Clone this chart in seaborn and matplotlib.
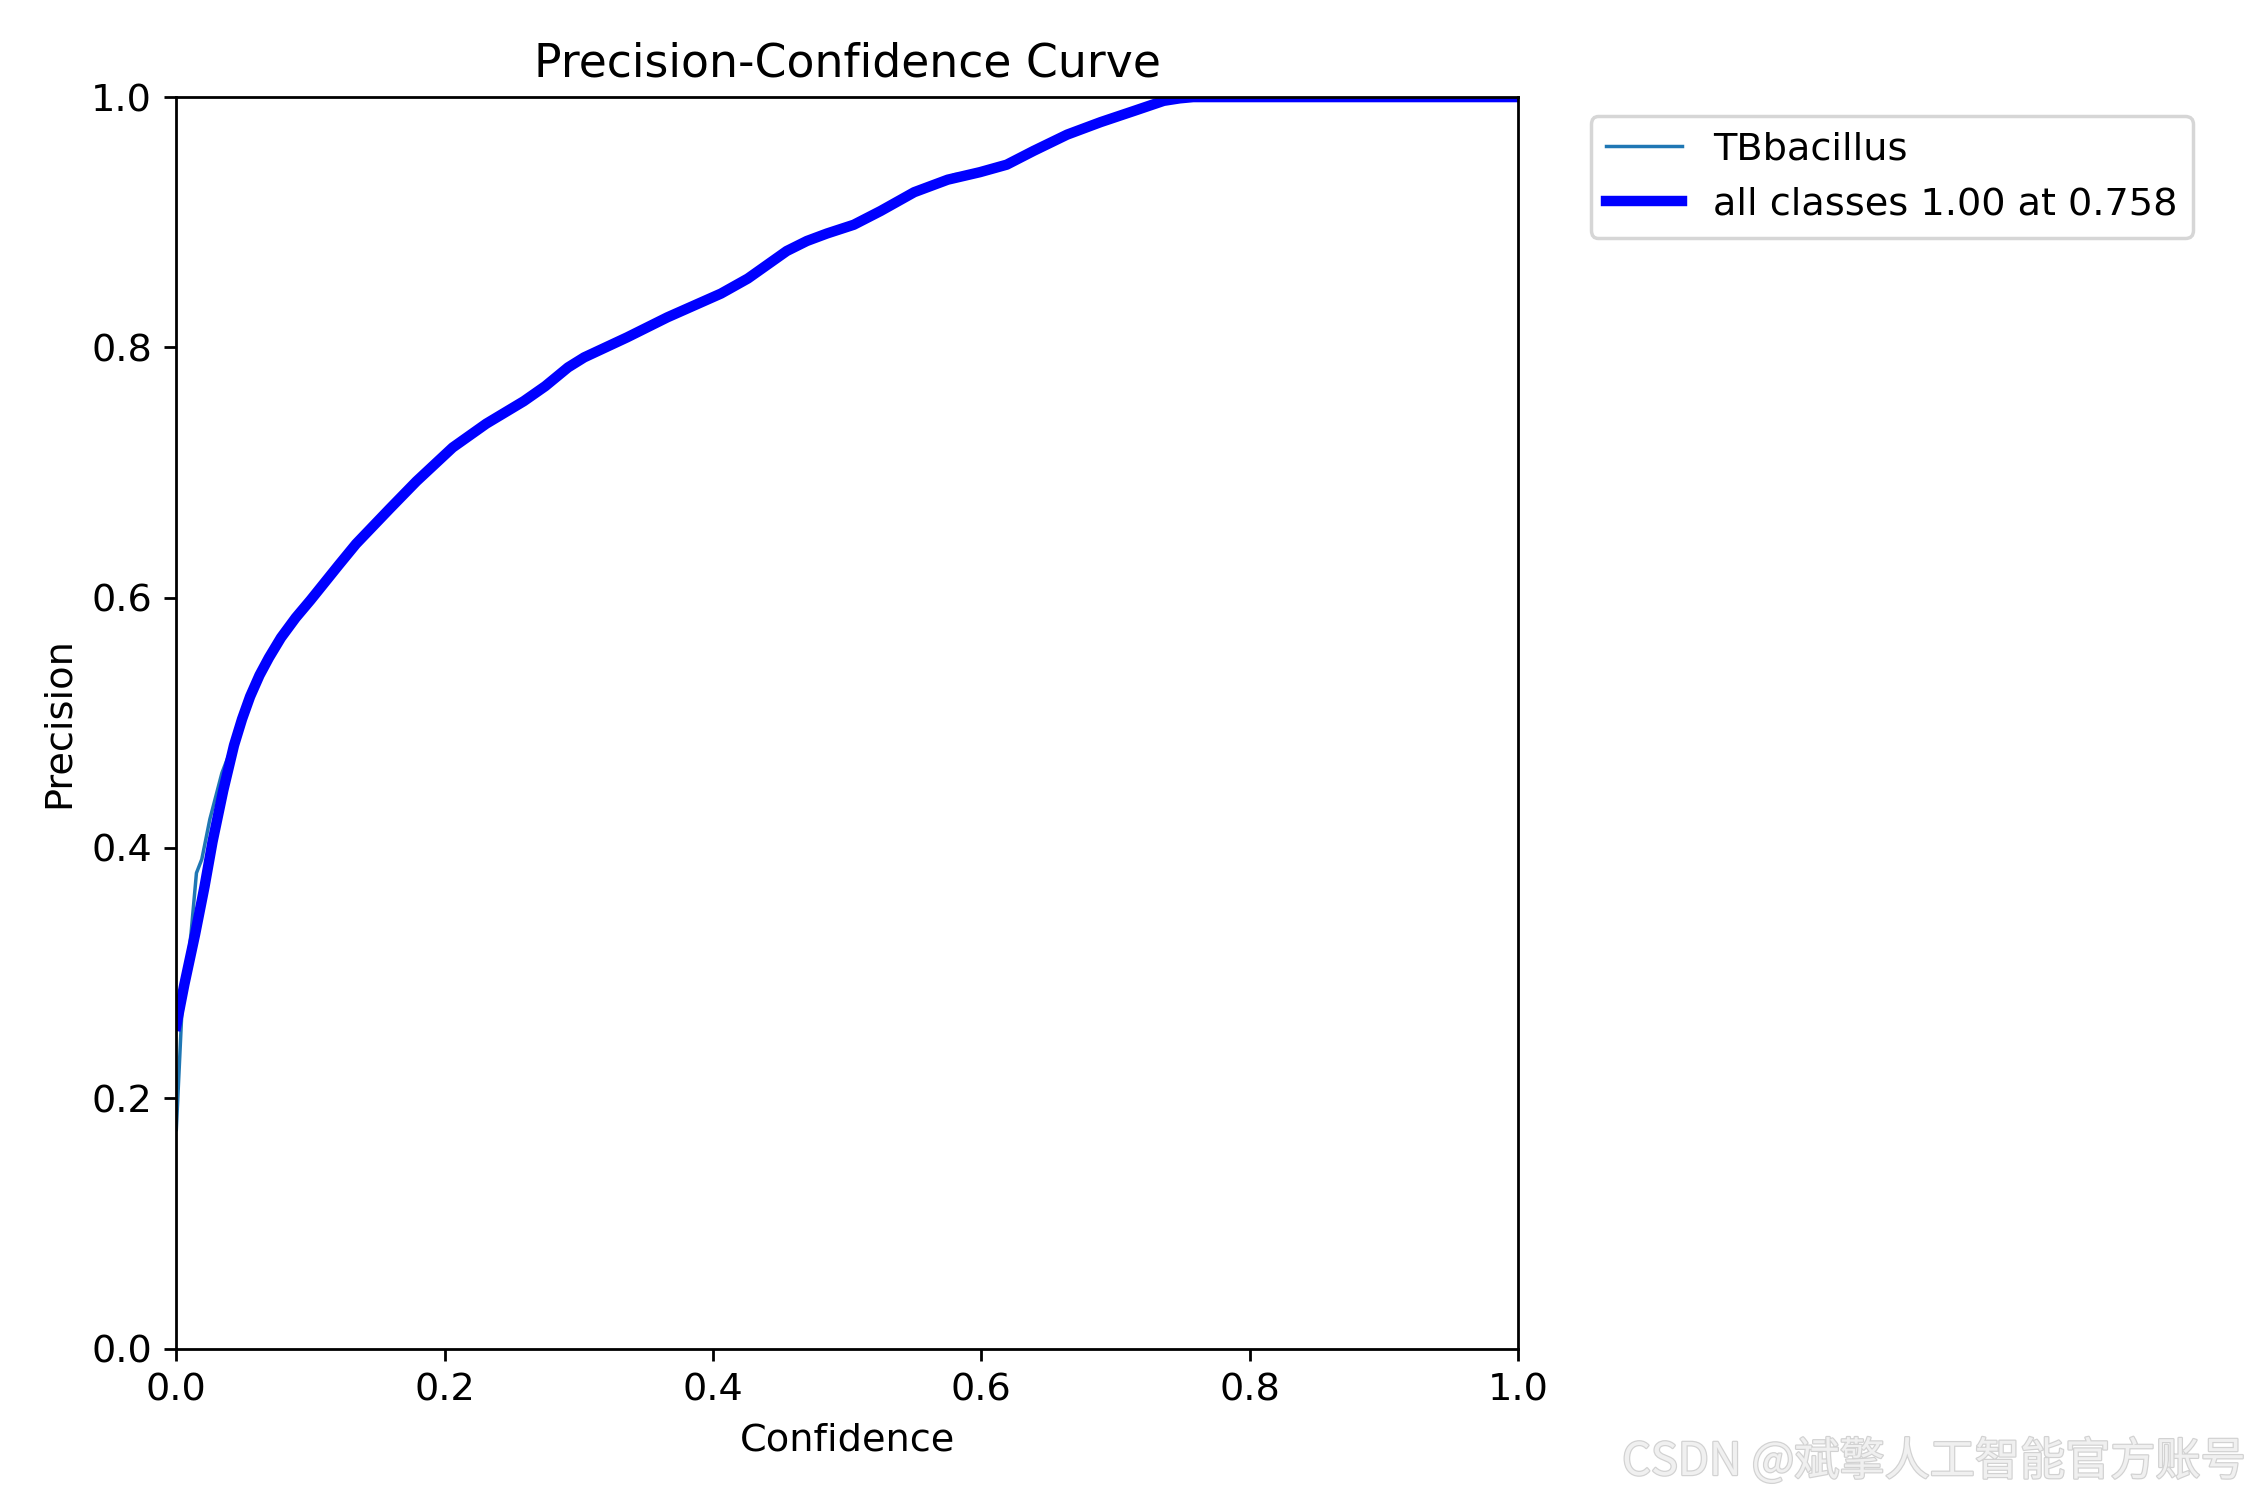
import matplotlib
matplotlib.use("Agg")
import matplotlib.pyplot as plt
import matplotlib.patheffects as pe
import seaborn as sns

# Curva "all classes" (média suavizada)
conf_all = [0.0, 0.006, 0.014, 0.021, 0.027, 0.035, 0.043, 0.049, 0.055, 0.062,
            0.069, 0.078, 0.089, 0.1, 0.109, 0.121, 0.134, 0.159, 0.179, 0.206,
            0.231, 0.259, 0.275, 0.292, 0.304, 0.336, 0.366, 0.406, 0.426, 0.455,
            0.47, 0.485, 0.505, 0.525, 0.55, 0.575, 0.599, 0.619, 0.639, 0.664,
            0.689, 0.714, 0.736, 0.748, 0.758, 1.0]
prec_all = [0.258, 0.291, 0.331, 0.369, 0.405, 0.446, 0.482, 0.503, 0.521, 0.538,
            0.552, 0.568, 0.584, 0.598, 0.610, 0.626, 0.643, 0.671, 0.693, 0.720,
            0.739, 0.757, 0.769, 0.784, 0.792, 0.808, 0.824, 0.843, 0.855, 0.877,
            0.885, 0.891, 0.898, 0.909, 0.924, 0.934, 0.940, 0.946, 0.957, 0.970,
            0.980, 0.989, 0.997, 0.999, 1.0, 1.0]

# Curva da classe TBbacillus
conf_cls = [0.0, 0.004, 0.011, 0.015, 0.019, 0.025, 0.034, 0.043, 0.049, 0.055,
            0.062, 0.069, 0.078, 0.089, 0.1, 0.109, 0.121, 0.134, 0.159, 0.179,
            0.206, 0.231, 0.259, 0.275, 0.292, 0.304, 0.336, 0.366, 0.406, 0.426,
            0.455, 0.47, 0.485, 0.505, 0.525, 0.55, 0.58, 0.599, 0.619, 0.639,
            0.664, 0.689, 0.714, 0.736, 0.748, 0.758, 1.0]
prec_cls = [0.175, 0.266, 0.332, 0.380, 0.391, 0.423, 0.460, 0.485, 0.503, 0.521,
            0.538, 0.552, 0.568, 0.584, 0.598, 0.610, 0.626, 0.643, 0.671, 0.693,
            0.720, 0.739, 0.757, 0.769, 0.784, 0.792, 0.808, 0.824, 0.843, 0.855,
            0.877, 0.885, 0.891, 0.898, 0.909, 0.924, 0.938, 0.940, 0.946, 0.958,
            0.970, 0.982, 0.989, 0.997, 0.999, 1.0, 1.0]

class_name = "TBbacillus"
best_value = 1.00
best_conf = 0.758

plt.rcParams["font.size"] = 11

fig, ax = plt.subplots(1, 1, figsize=(9, 6), tight_layout=True)

sns.lineplot(x=conf_cls, y=prec_cls, ax=ax, linewidth=1, color="C0", label=class_name)
sns.lineplot(x=conf_all, y=prec_all, ax=ax, linewidth=3, color="blue",
             label=f"all classes {best_value:.2f} at {best_conf:.3f}")

ax.set_xlabel("Confidence")
ax.set_ylabel("Precision")
ax.set_xlim(0, 1)
ax.set_ylim(0, 1)
ax.legend(bbox_to_anchor=(1.04, 1), loc="upper left")
ax.set_title("Precision-Confidence Curve")

# marca d'água
fig.text(0.998, 0.01, "CSDN @斌擎人工智能官方账号", ha="right", va="bottom",
         fontsize=13, color="#f0f0f0", family=["Noto Sans CJK SC", "DejaVu Sans"],
         path_effects=[pe.withStroke(linewidth=0.7, foreground="#d2d2d2")])

fig.savefig("out.png", dpi=250)
